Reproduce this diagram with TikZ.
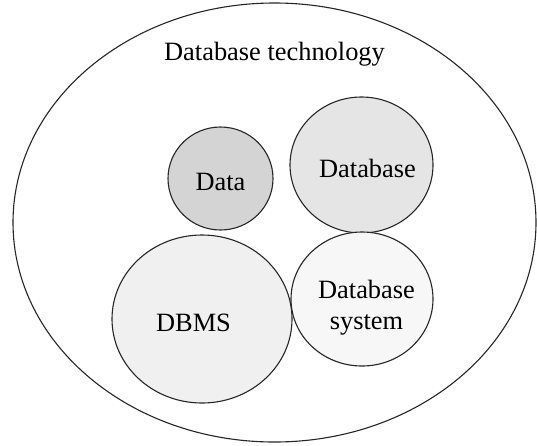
\documentclass[tikz,border=0pt]{standalone}
\usepackage{fontspec}
\setmainfont{Liberation Serif}
\usetikzlibrary{shapes.geometric}
\definecolor{fillData}{gray}{0.83}
\definecolor{fillDb}{gray}{0.90}
\definecolor{fillDbms}{gray}{0.94}
\definecolor{fillSys}{gray}{0.97}
\tikzset{
  blob/.style={ellipse, draw=black!85, line width=1.1pt, inner sep=0pt},
  word/.style={font=\fontsize{26.4}{31}\selectfont, inner sep=0pt, anchor=base, align=center}
}
\begin{document}
\begin{tikzpicture}[x=1pt, y=-1pt]
  \useasboundingbox (0,0) rectangle (537,445);
  % outer boundary
  \node[blob, fill=white, minimum width=523pt, minimum height=439pt] (tech) at (274.5,222.5) {};
  \node[word] (techlbl) at (274.5,60) {Database technology};
  % inner circles
  \node[blob, fill=fillData, minimum width=105pt, minimum height=103pt] (data) at (220.5,178.5) {};
  \node[blob, fill=fillDb, minimum width=143pt, minimum height=136pt] (db) at (361.5,165) {};
  \node[blob, fill=fillDbms, minimum width=180pt, minimum height=168pt] (dbms) at (202,319) {};
  \node[blob, fill=fillSys, minimum width=142pt, minimum height=134pt] (sys) at (362,299) {};
  % labels
  \node[word] (datalbl) at (220.5,190) {Data};
  \node[word] (dblbl) at (367.5,177) {Database};
  \node[word] (dbmslbl) at (193.5,331) {DBMS};
  \node[word] (syslbl) at (366.5,329) {Database\\system};
\end{tikzpicture}
\end{document}
